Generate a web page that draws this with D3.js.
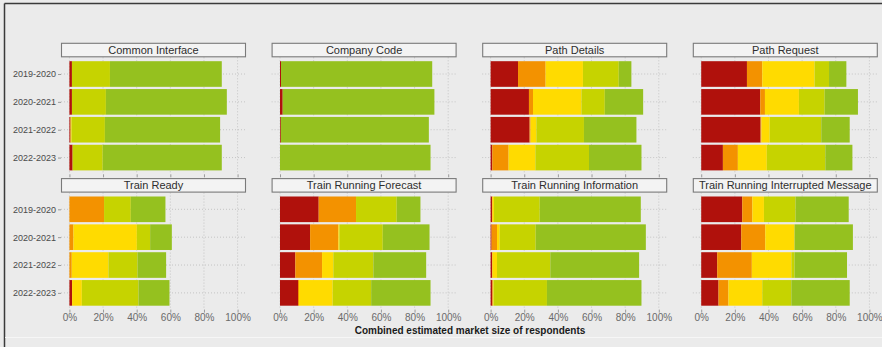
<!DOCTYPE html>
<html><head><meta charset="utf-8">
<script src="https://cdn.jsdelivr.net/npm/d3@7"></script>
<style>
html,body{margin:0;padding:0;background:#ebebeb;}
svg{display:block;font-family:"Liberation Sans",Arial,sans-serif;}
</style></head>
<body>
<svg id="chart" width="882" height="347"></svg>
<script>
// ---- data (percent of combined market size) ----
const panels = ["Common Interface","Company Code","Path Details","Path Request",
  "Train Ready","Train Running Forecast","Train Running Information","Train Running Interrupted Message"];
const years = ["2019-2020","2020-2021","2021-2022","2022-2023"];
const levels = ["red","orange","yellow","lime","green"];
const xTicks = [0,20,40,60,80,100];
const xTitle = "Combined estimated market size of respondents";
// one array per level: per panel, values for each year
const red    = [[1.5,1.5,0.7,1.9],[0.6,1.6,0.5,0],[16.3,22.8,23.2,1.0],[27.2,35.1,35.3,12.9],
                [0,0,0,1.6],[23.0,17.9,9.1,10.7],[1.0,0.6,1.0,1.0],[24.4,23.8,9.5,10.3]];
const orange = [[0,0,0,0],[0,0,0,0],[16.4,2.4,0.6,9.7],[9.1,2.8,0.5,8.9],
                [20.6,2.4,1.4,0],[22.2,16.8,15.9,0.6],[0,3.2,0,0.4],[6.0,14.3,20.6,5.9]];
const yellow = [[0,0,0.6,0],[0,0,0,0],[22.2,28.8,3.4,15.9],[31.1,20.2,4.9,17.2],
                [0,37.7,21.8,5.8],[0,0.6,6.7,20.0],[1.0,1.6,2.8,0.4],[6.9,17.4,23.5,20.1]];
const lime   = [[22.6,20.2,19.8,17.9],[0,0,0,0],[21.3,13.9,28.3,31.9],[8.6,15.3,30.7,34.8],
                [15.9,7.9,17.3,33.7],[24.2,25.8,23.8,22.9],[27.2,21.4,31.7,31.7],[18.8,0,1.9,17.3]];
const green  = [[66.5,71.9,68.5,70.8],[89.9,90.2,88.0,89.5],[7.5,22.8,31.2,31.2],[10.3,19.8,16.9,16.1],
                [20.6,12.9,17.0,18.4],[14.1,27.8,31.4,35.3],[60.1,65.5,52.8,56.2],[31.6,34.7,31.2,34.7]];
const levelValues = [red, orange, yellow, lime, green];
const colors = ["#b0110c","#f39200","#ffdb00","#c6d300","#95c11f"];

// ---- layout ----
const svg = d3.select("#chart");
const panelLeft0 = 61, panelStep = 210.6, panelW = 185, panelH = 117;
const rowTops = [57.3, 192.6], stripH = 13.5;

// frame
svg.append("rect").attr("x",0).attr("y",0).attr("width",882).attr("height",347).attr("fill","#ebebeb");
svg.append("line").attr("x1",4.5).attr("x2",882).attr("y1",3.5).attr("y2",3.5).attr("stroke","#3a3a3a").attr("stroke-width",1.5);
svg.append("line").attr("x1",4.5).attr("x2",4.5).attr("y1",3.5).attr("y2",347).attr("stroke","#3a3a3a").attr("stroke-width",1.5);
svg.append("line").attr("x1",5).attr("x2",882).attr("y1",337.5).attr("y2",337.5).attr("stroke","#f6f6f6").attr("stroke-width",1);

const stack = d3.stack().keys(d3.range(levels.length));

panels.forEach((name, pi) => {
  const col = pi % 4, row = Math.floor(pi / 4);
  const left = panelLeft0 + col * panelStep, top = rowTops[row];
  const x = d3.scaleLinear().domain([-5,105]).range([left, left + panelW]);
  const y = d3.scalePoint().domain(years).range([top, top + panelH]).padding(0.6);
  const bh = y.step() * 0.92;
  const g = svg.append("g");

  // gridlines (dotted)
  g.selectAll(".vg").data(xTicks).join("line")
    .attr("x1", d => x(d)).attr("x2", d => x(d)).attr("y1", top).attr("y2", top + panelH)
    .attr("stroke","#c4c4c4").attr("stroke-width",1).attr("stroke-dasharray","1,2");
  g.selectAll(".hg").data(years).join("line")
    .attr("x1", left).attr("x2", left + panelW).attr("y1", d => y(d)).attr("y2", d => y(d))
    .attr("stroke","#c4c4c4").attr("stroke-width",1).attr("stroke-dasharray","1,2");

  // stacked bars
  const rows = years.map((yr, yi) => {
    const o = {year: yr};
    levels.forEach((l, li) => o[li] = levelValues[li][pi][yi]);
    return o;
  });
  const series = stack(rows);
  series.forEach((s, li) => {
    g.selectAll(null).data(s).join("rect")
      .attr("x", d => x(d[0]))
      .attr("width", d => Math.max(0, x(d[1]) - x(d[0])))
      .attr("y", d => y(d.data.year) - bh / 2)
      .attr("height", bh)
      .attr("fill", colors[li]);
  });

  // strip
  g.append("rect").attr("x", left + 0.5).attr("y", top - stripH - 0.5)
    .attr("width", panelW - 1).attr("height", stripH)
    .attr("fill","#f3f3f3").attr("stroke","#7a7a7a").attr("stroke-width",1.1);
  g.append("text").attr("x", left + panelW / 2).attr("y", top - stripH / 2 - 0.5)
    .attr("text-anchor","middle").attr("dominant-baseline","central")
    .attr("font-size","11px").attr("fill","#2e2e2e").text(name);

  // x axis ticks
  const ax = g.append("g").attr("transform", `translate(0,${top + panelH})`)
    .call(d3.axisBottom(x).tickValues(xTicks).tickSize(3).tickPadding(1).tickFormat(d => d + "%"));
  ax.select(".domain").remove();
  ax.selectAll(".tick line").attr("stroke","#9a9a9a");
  ax.selectAll("text").attr("fill","#6a6a6a").attr("font-size","10px")
    .attr("font-family","Liberation Sans, Arial, sans-serif").attr("dy","0.72em");
  if (row === 0) ax.selectAll("text").remove();

  // y axis labels on first column
  if (col === 0) {
    const ay = g.append("g").attr("transform", `translate(${left},0)`)
      .call(d3.axisLeft(y).tickSize(3).tickPadding(2));
    ay.select(".domain").remove();
    ay.selectAll(".tick line").attr("stroke","#9a9a9a");
    ay.selectAll("text").attr("fill","#4a4a4a").attr("font-size","9px")
      .attr("font-family","Liberation Sans, Arial, sans-serif");
  }
});

svg.append("text").attr("x", 470).attr("y", 330.5)
  .attr("text-anchor","middle").attr("dominant-baseline","central")
  .attr("font-size","10px").attr("font-weight","bold").attr("fill","#1a1a1a").text(xTitle);
</script>
</body></html>
